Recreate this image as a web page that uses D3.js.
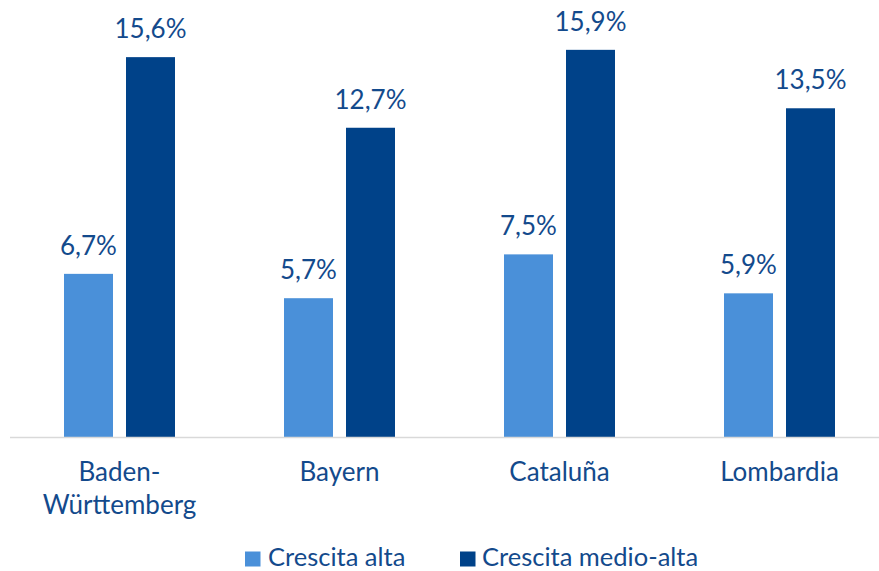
<!DOCTYPE html>
<html>
<head>
<meta charset="utf-8">
<script src="https://cdn.jsdelivr.net/npm/d3@7"></script>
<style>
  html, body { margin: 0; padding: 0; background: #ffffff; }
  svg { display: block; }
  text { font-family: Lato, "Open Sans", sans-serif; fill: #134a8c; }
</style>
</head>
<body>
<svg id="chart" width="879" height="571"></svg>
<script>
const categories = [["Baden-", "Württemberg"], ["Bayern"], ["Cataluña"], ["Lombardia"]];
const seriesNames = ["Crescita alta", "Crescita medio-alta"];
const crescitaAlta = [6.7, 5.7, 7.5, 5.9];
const crescitaMedioAlta = [15.6, 12.7, 15.9, 13.5];
const seriesColors = ["#4a90d9", "#004289"];

const catKeys = categories.map(c => c.join(""));
const seriesValues = [crescitaAlta, crescitaMedioAlta];
const data = catKeys.map((k, i) => ({
  key: k,
  lines: categories[i],
  values: seriesNames.map((s, j) => ({ series: s, idx: j, value: seriesValues[j][i] }))
}));

const svg = d3.select("#chart");
const baseline = 437;

const x0 = d3.scaleBand().domain(catKeys).range([9.5, 889.5]).paddingInner(0).paddingOuter(0);
const x1 = d3.scaleBand().domain(seriesNames).range([54.5, 165.5]).paddingInner(0.2097).paddingOuter(0);
const y = d3.scaleLinear().domain([0, 18]).range([baseline, -1.3]);
const color = d3.scaleOrdinal().domain(seriesNames).range(seriesColors);
const fmt = v => d3.format(".1f")(v).replace(".", ",") + "%";

const groups = svg.selectAll("g.group").data(data).enter().append("g")
  .attr("class", "group")
  .attr("transform", d => `translate(${x0(d.key)},0)`);

groups.selectAll("rect").data(d => d.values).enter().append("rect")
  .attr("x", d => x1(d.series))
  .attr("width", x1.bandwidth())
  .attr("y", d => y(d.value))
  .attr("height", d => y(0) - y(d.value))
  .attr("fill", d => color(d.series));

groups.selectAll("text.val").data(d => d.values).enter().append("text")
  .attr("class", "val")
  .attr("x", d => x1(d.series) + x1.bandwidth() / 2)
  .attr("y", d => y(d.value) - 19)
  .attr("text-anchor", "middle")
  .style("font-size", "26px")
  .text(d => fmt(d.value));

// axis line
svg.append("line")
  .attr("x1", 10).attr("x2", 879)
  .attr("y1", baseline + 0.5).attr("y2", baseline + 0.5)
  .attr("stroke", "#d9d9d9").attr("stroke-width", 1.5);

// category labels
groups.each(function(d) {
  const t = d3.select(this).append("text")
    .attr("text-anchor", "middle")
    .style("font-size", "26px");
  d.lines.forEach((ln, i) => {
    t.append("tspan")
      .attr("x", x0.bandwidth() / 2)
      .attr("y", 481 + i * 32.5)
      .text(ln);
  });
});

// legend
const legendX = [245, 460];
const leg = svg.selectAll("g.leg").data(seriesNames).enter().append("g")
  .attr("class", "leg")
  .attr("transform", (d, i) => `translate(${legendX[i]},0)`);
leg.append("rect")
  .attr("x", 0).attr("y", 551.5).attr("width", 15.5).attr("height", 15)
  .attr("fill", d => color(d));
leg.append("text")
  .attr("x", (d, i) => i === 0 ? 23 : 22)
  .attr("y", 566)
  .style("font-size", "25.5px")
  .text(d => d);
</script>
</body>
</html>
